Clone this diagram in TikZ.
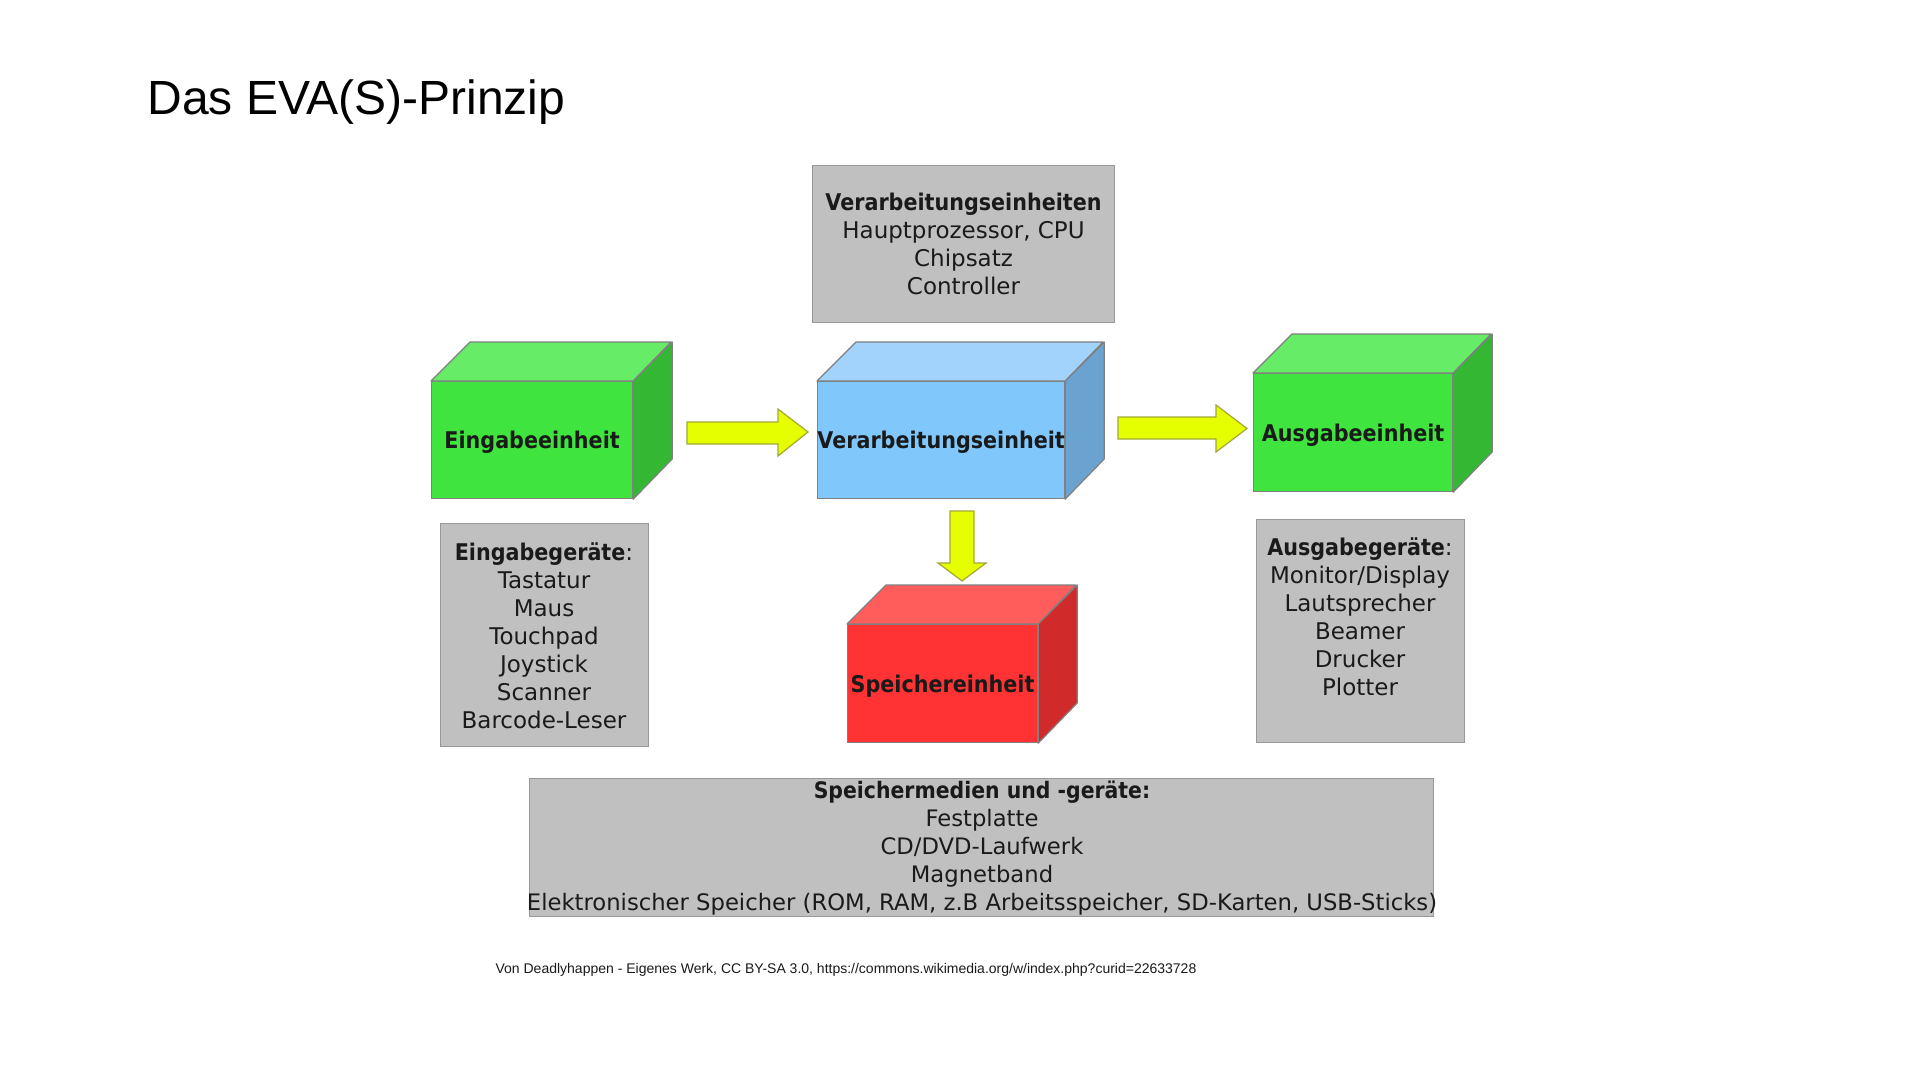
\documentclass[tikz,border=0pt]{standalone}
\usepackage{fontspec}
\setmainfont{DejaVu Sans}
\newfontfamily\plainfont{DejaVu Sans}
\newfontfamily\narrowfont[FakeStretch=0.9]{DejaVu Sans}
\newfontfamily\arialfont{Liberation Sans}
\definecolor{ink}{HTML}{1A1A1A}
\definecolor{edge}{HTML}{808080}
\definecolor{gF}{HTML}{3FE43F}
\definecolor{gT}{HTML}{66EC66}
\definecolor{gS}{HTML}{34B834}
\definecolor{bF}{HTML}{80C7FC}
\definecolor{bT}{HTML}{A2D3FC}
\definecolor{bS}{HTML}{6AA3CF}
\definecolor{rF}{HTML}{FF3333}
\definecolor{rT}{HTML}{FF5C5C}
\definecolor{rS}{HTML}{D02A2A}
\definecolor{boxgray}{HTML}{C0C0C0}
\definecolor{boxedge}{HTML}{989898}
\definecolor{arrfill}{HTML}{E6FF00}
\definecolor{arredge}{HTML}{A3A838}
\tikzset{
  face/.style={draw=edge, line width=0.6pt, inner sep=0pt, anchor=north west},
  cubelabel/.style={inner sep=0pt, text=ink, yshift=-1.2pt,
    font=\narrowfont\bfseries\fontsize{11.5pt}{14pt}\selectfont},
  facedge/.style={draw=edge, line width=0.6pt, line join=round},
  graybox/.style={draw=boxedge, fill=boxgray, line width=0.6pt, inner sep=0pt, anchor=north west},
  boxtext/.style={align=center, inner sep=0pt, text=ink,
    font=\plainfont\fontsize{11.5pt}{14pt}\selectfont},
  yarr/.style={draw=arredge, fill=arrfill, line width=0.6pt, line join=miter},
}
\begin{document}
\begin{tikzpicture}[x=0.5pt,y=-0.5pt]
\path[use as bounding box, fill=white] (0,0) rectangle (1920,1080);

% title
\node[anchor=base west, inner sep=0pt, font=\arialfont\fontsize{24pt}{28pt}\selectfont] (title) at (147,115) {Das EVA(S)-Prinzip};

% top info box
\node[graybox, minimum width=151pt, minimum height=78.5pt] (vbox) at (812,165) {};
\node[boxtext] (vtxt) at (963.5,243.5) {{\narrowfont\bfseries Verarbeitungseinheiten}\\Hauptprozessor, CPU\\Chipsatz\\Controller};

% Eingabe cube
\node[face, fill=gF, minimum width=100.5pt, minimum height=58.5pt] (ein) at (431,381) {};
\draw[facedge, fill=gT] (ein.north west) -- ++(39,-39) -- ++(201,0) -- (ein.north east) -- cycle;
\draw[facedge, fill=gS] (ein.north east) -- ++(39,-39) -- ++(0,117) -- (ein.south east) -- cycle;
\node[cubelabel] (einl) at (ein.center) {Eingabeeinheit};

% Verarbeitung cube
\node[face, fill=bF, minimum width=123.5pt, minimum height=58.5pt] (ver) at (817,381) {};
\draw[facedge, fill=bT] (ver.north west) -- ++(39,-39) -- ++(247,0) -- (ver.north east) -- cycle;
\draw[facedge, fill=bS] (ver.north east) -- ++(39,-39) -- ++(0,117) -- (ver.south east) -- cycle;
\node[cubelabel] (verl) at (ver.center) {Verarbeitungseinheit};

% Ausgabe cube
\node[face, fill=gF, minimum width=99.5pt, minimum height=59pt] (aus) at (1253,373) {};
\draw[facedge, fill=gT] (aus.north west) -- ++(39,-39) -- ++(199,0) -- (aus.north east) -- cycle;
\draw[facedge, fill=gS] (aus.north east) -- ++(39,-39) -- ++(0,118) -- (aus.south east) -- cycle;
\node[cubelabel] (ausl) at (aus.center) {Ausgabeeinheit};

% Speicher cube
\node[face, fill=rF, minimum width=95pt, minimum height=59pt] (spe) at (847,624) {};
\draw[facedge, fill=rT] (spe.north west) -- ++(39,-39) -- ++(190,0) -- (spe.north east) -- cycle;
\draw[facedge, fill=rS] (spe.north east) -- ++(39,-39) -- ++(0,118) -- (spe.south east) -- cycle;
\node[cubelabel] (spel) at (spe.center) {Speichereinheit};

% block arrows
\draw[yarr] (687,422) -- (778,422) -- (778,409) -- (808,432) -- (778,456) -- (778,444) -- (687,444) -- cycle;
\draw[yarr] (1118,417) -- (1216,417) -- (1216,405) -- (1247,428.5) -- (1216,452) -- (1216,439) -- (1118,439) -- cycle;
\draw[yarr] (950,511) -- (974,511) -- (974,563) -- (986,563) -- (962,581) -- (938,563) -- (950,563) -- cycle;

% Eingabegeraete box
\node[graybox, minimum width=104pt, minimum height=111.5pt] (ebox) at (440,523) {};
\node[boxtext] (etxt) at (544,635.5) {{\narrowfont\bfseries Eingabeger\"ate}:\\Tastatur\\Maus\\Touchpad\\Joystick\\Scanner\\Barcode-Leser};

% Ausgabegeraete box
\node[graybox, minimum width=104pt, minimum height=111.5pt] (abox) at (1256,519) {};
\node[boxtext] (atxt) at (1360,616.5) {{\narrowfont\bfseries Ausgabeger\"ate}:\\Monitor/Display\\Lautsprecher\\Beamer\\Drucker\\Plotter};

% Speichermedien box
\node[graybox, minimum width=452pt, minimum height=69pt] (sbox) at (529,778) {};
\node[boxtext, font=\plainfont\fontsize{11.35pt}{14pt}\selectfont] (stxt) at (982,848) {{\narrowfont\bfseries Speichermedien und -ger\"ate:}\\Festplatte\\CD/DVD-Laufwerk\\Magnetband\\Elektronischer Speicher (ROM, RAM, z.B Arbeitsspeicher, SD-Karten, USB-Sticks)};

% credit
\node[inner sep=0pt, font=\arialfont\fontsize{7pt}{8.4pt}\selectfont, text=ink] (credit) at (846,969.5) {Von Deadlyhappen - Eigenes Werk, CC BY-SA 3.0, https://commons.wikimedia.org/w/index.php?curid=22633728};
\end{tikzpicture}
\end{document}
